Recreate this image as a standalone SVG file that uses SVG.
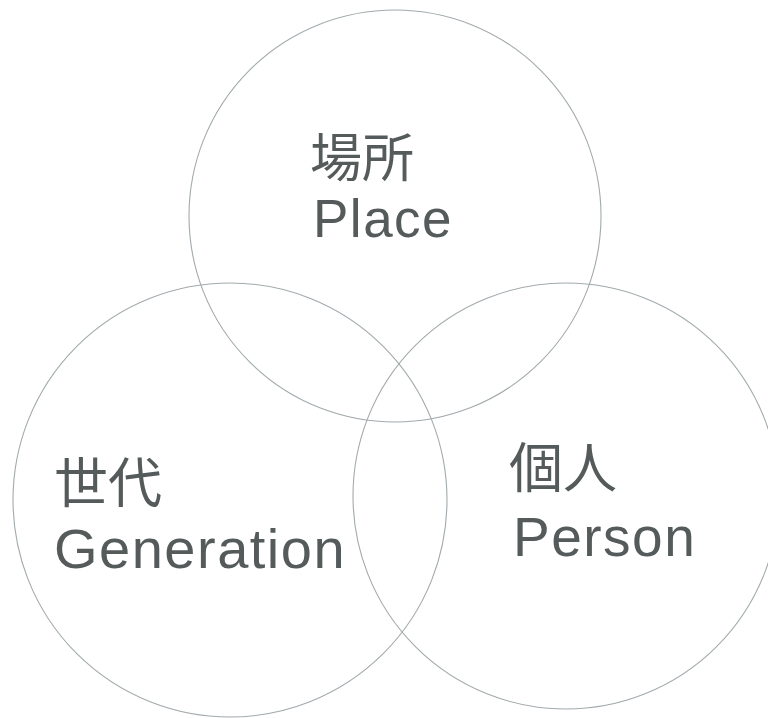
<svg xmlns="http://www.w3.org/2000/svg" width="768" height="718" viewBox="0 0 768 718">
<style>
.c{fill:none;stroke:#a2aaad;stroke-width:1.1}
.t{font-family:"Liberation Sans","Noto Sans CJK JP",sans-serif;fill:#555a5a;letter-spacing:1.5px}
.j{font-family:"Noto Sans CJK JP",sans-serif;fill:#555a5a}
</style>
<rect width="768" height="718" fill="#ffffff"/>
<g id="place">
<circle class="c" cx="395" cy="216" r="206"/>
<text class="j" x="310" y="177" font-size="52">場所</text>
<text class="t" x="313" y="237" font-size="53">Place</text>
</g>
<g id="generation">
<circle class="c" cx="230" cy="500" r="217"/>
<text class="j" x="54" y="503" font-size="54">世代</text>
<text class="t" x="54" y="568" font-size="56">Generation</text>
</g>
<g id="person">
<circle class="c" cx="566" cy="496" r="213"/>
<text class="j" x="509" y="488" font-size="54">個人</text>
<text class="t" x="513" y="556" font-size="55">Person</text>
</g>
<g id="connectors"/>
</svg>
